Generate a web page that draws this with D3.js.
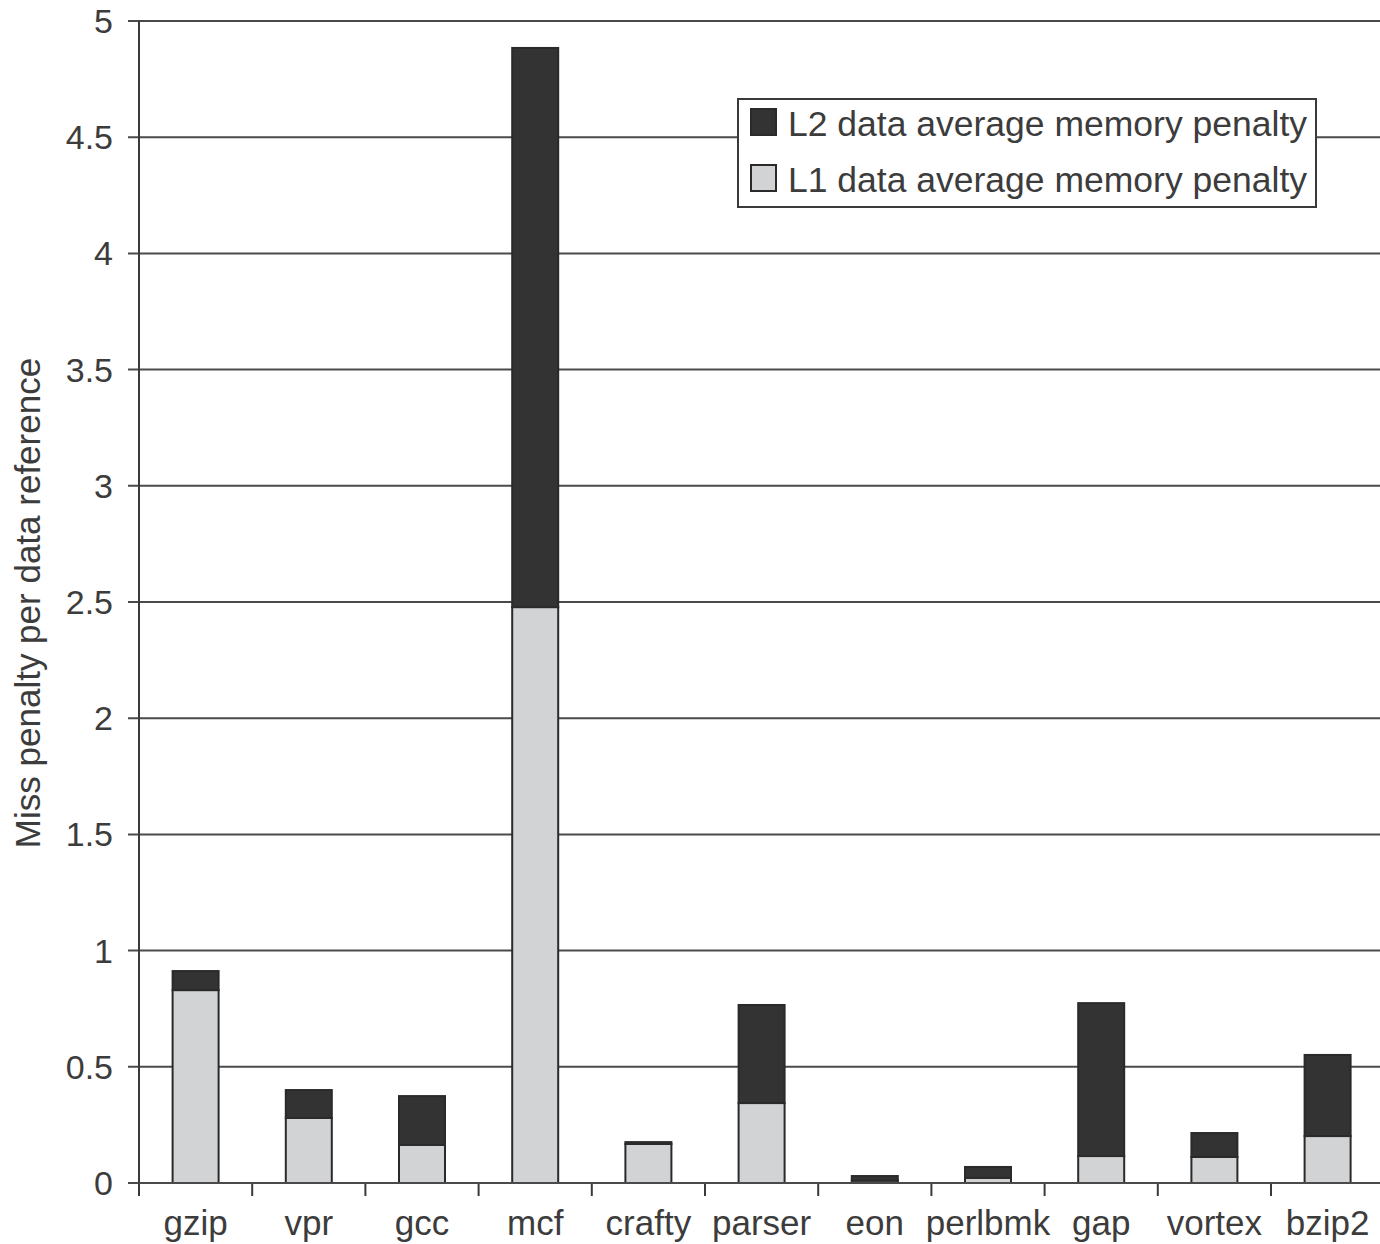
<!DOCTYPE html>
<html><head><meta charset="utf-8">
<script src="https://cdn.jsdelivr.net/npm/d3@7/dist/d3.min.js"></script>
<style>body{margin:0;background:#fff}svg{display:block}</style>
</head><body>
<script>
const categories = ["gzip","vpr","gcc","mcf","crafty","parser","eon","perlbmk","gap","vortex","bzip2"];
const l1Values = [0.830,0.280,0.164,2.478,0.168,0.344,0.010,0.022,0.116,0.112,0.202];
const totalValues = [0.912,0.400,0.374,4.884,0.176,0.766,0.030,0.069,0.774,0.215,0.551];
const l2Values = totalValues.map((t,i)=>t-l1Values[i]);
const yTicks = [0,0.5,1,1.5,2,2.5,3,3.5,4,4.5,5];
const yTickLabels = ["0","0.5","1","1.5","2","2.5","3","3.5","4","4.5","5"];
const seriesNames = ["L2 data average memory penalty","L1 data average memory penalty"];

const W=1380,H=1244;
const svg=d3.select("body").append("svg").attr("width",W).attr("height",H);
const font="Liberation Sans, Arial, Helvetica, sans-serif";
const x0=139, y0=1183, yTop=21, band=113.2;
const x=d3.scaleBand().domain(categories).range([x0,x0+band*categories.length]).paddingInner(0).paddingOuter(0);
const y=d3.scaleLinear().domain([0,5]).range([y0,yTop]);

// gridlines
svg.append("g").selectAll("line").data(yTicks).join("line")
  .attr("x1",128).attr("x2",W).attr("y1",d=>y(d)).attr("y2",d=>y(d))
  .attr("stroke","#4a4a4a").attr("stroke-width",2);

// y axis line
svg.append("line").attr("x1",x0).attr("x2",x0).attr("y1",yTop).attr("y2",y0+13)
  .attr("stroke","#3a3a3a").attr("stroke-width",2);

// y tick labels
svg.append("g").selectAll("text").data(yTicks).join("text")
  .attr("x",113).attr("y",d=>y(d)+12).attr("text-anchor","end")
  .attr("font-family",font).attr("font-size",34).attr("fill","#3c3c3c")
  .text((d,i)=>yTickLabels[i]);

// x tick marks
const tickXs = categories.map(c=>x(c)).concat([x0+band*categories.length]);
svg.append("g").selectAll("line").data(tickXs).join("line")
  .attr("x1",d=>d).attr("x2",d=>d).attr("y1",y0).attr("y2",y0+13)
  .attr("stroke","#3a3a3a").attr("stroke-width",2);

// bars
const bw=46;
const g=svg.append("g");
categories.forEach((c,i)=>{
  const cx=x(c)+x.bandwidth()/2;
  g.append("rect").attr("x",cx-bw/2).attr("width",bw)
    .attr("y",y(l1Values[i])).attr("height",y(0)-y(l1Values[i]))
    .attr("fill","#d2d3d5").attr("stroke","#2a2a2a").attr("stroke-width",2);
  g.append("rect").attr("x",cx-bw/2).attr("width",bw)
    .attr("y",y(totalValues[i])).attr("height",y(l1Values[i])-y(totalValues[i]))
    .attr("fill","#333333").attr("stroke","#2a2a2a").attr("stroke-width",2);
});
// baseline over bars
svg.append("line").attr("x1",x0).attr("x2",W).attr("y1",y0).attr("y2",y0)
  .attr("stroke","#4a4a4a").attr("stroke-width",2);

// x labels
svg.append("g").selectAll("text").data(categories).join("text")
  .attr("x",d=>x(d)+x.bandwidth()/2).attr("y",1235).attr("text-anchor","middle")
  .attr("font-family",font).attr("font-size",35).attr("fill","#3c3c3c").text(d=>d);

// y label
svg.append("text").attr("transform","translate(40,603) rotate(-90)")
  .attr("text-anchor","middle").attr("font-family",font).attr("font-size",35)
  .attr("fill","#3c3c3c").text("Miss penalty per data reference");

// legend
const lg=svg.append("g");
lg.append("rect").attr("x",738).attr("y",99).attr("width",578).attr("height",108)
  .attr("fill","#fff").attr("stroke","#3a3a3a").attr("stroke-width",2);
const swFill=["#333333","#d2d3d5"];
seriesNames.forEach((s,i)=>{
  lg.append("rect").attr("x",751).attr("y",109+i*56).attr("width",25).attr("height",26)
    .attr("fill",swFill[i]).attr("stroke","#2a2a2a").attr("stroke-width",2);
  lg.append("text").attr("x",788).attr("y",136+i*56).attr("font-family",font)
    .attr("font-size",35.5).attr("fill","#3c3c3c").text(s);
});
</script>
</body></html>
